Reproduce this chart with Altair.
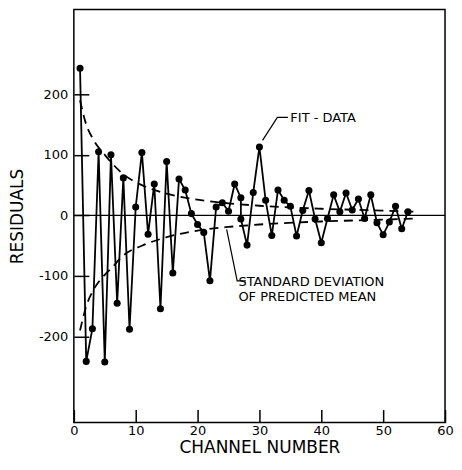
import altair as alt
import pandas as pd

# ---- data ----
channels = [1, 2, 3, 4, 5, 6, 7, 8, 9, 10, 11, 12, 13, 14, 15, 16, 17, 18, 19, 20,
            21, 22, 23, 24, 25, 26, 27, 27, 28, 29, 30, 31, 32, 33, 34, 35, 36, 37,
            38, 39, 40, 41, 42, 43, 44, 45, 46, 47, 48, 49, 50, 51, 52, 53, 54]
residuals = [243, -241, -187, 105, -242, 100, -145, 62, -188, 14, 104, -31, 52, -154,
             89, -95, 60, 42, 3, -15, -28, -108, 14, 21, 7, 52, 29, -6, -49, 38, 113,
             25, -33, 42, 25, 15, -34, 8, 41, -6, -45, -5, 34, 6, 37, 9, 27, -5, 34,
             -12, -32, -11, 15, -22, 6]

std_channels = [1, 2, 3, 4, 5, 6, 8, 11, 15, 20, 25, 30, 40, 50, 55.5]
std_upper = [190, 150, 128, 112, 100, 88, 68, 50, 36, 26, 20, 16, 11, 8, 6]
std_lower = [-190, -150, -126, -110, -98, -88, -66, -50, -36, -25, -19, -15, -10, -7, -5]

x_ticks = [0, 10, 20, 30, 40, 50, 60]
y_ticks = [-200, -100, 0, 100, 200]

zero_x = [0, 60]
zero_y = [0, 0]

labels_text = ["FIT - DATA", "STANDARD DEVIATION", "OF PREDICTED MEAN"]
labels_x = [35.0, 26.6, 26.6]
labels_y = [161, -110, -134]

leader_group = ["fit", "fit", "fit", "std", "std", "std"]
leader_x = [34.6, 32.9, 30.5, 27.8, 26.4, 24.7]
leader_y = [162, 162, 124, -108, -108, -23]

FONT = "DejaVu Sans"

df = pd.DataFrame({"idx": list(range(len(channels))), "channel": channels, "value": residuals})
std_df = pd.DataFrame({
    "channel": std_channels + std_channels,
    "value": std_upper + std_lower,
    "side": ["upper"] * len(std_channels) + ["lower"] * len(std_channels),
})
lab_df = pd.DataFrame({"channel": labels_x, "value": labels_y, "text": labels_text})
lead_df = pd.DataFrame({"idx": list(range(len(leader_x))), "grp": leader_group,
                        "channel": leader_x, "value": leader_y})
zero_df = pd.DataFrame({"channel": zero_x, "value": zero_y})

x_scale = alt.Scale(domain=[0, 60], nice=False, zero=False)
y_scale = alt.Scale(domain=[-342, 340], nice=False, zero=False)

x_axis = alt.Axis(values=x_ticks, tickSize=13, offset=-13, domain=False, grid=False,
                  tickColor="black", tickWidth=1.5, labelPadding=2, labelFont=FONT,
                  labelFontSize=13, labelColor="black", labelFlush=False,
                  title="CHANNEL NUMBER", titleFont=FONT, titleFontSize=17,
                  titleFontWeight="normal", titleColor="black", titlePadding=2)
y_axis = alt.Axis(values=y_ticks, tickSize=15, offset=-15, domain=False, grid=False,
                  tickColor="black", tickWidth=1.5, labelPadding=6, labelFont=FONT,
                  labelFontSize=13, labelColor="black",
                  labelExpr="datum.value < 0 ? '-' + abs(datum.value) : '' + datum.value",
                  title="RESIDUALS", titleFont=FONT, titleFontSize=17,
                  titleFontWeight="normal", titleColor="black", titlePadding=12)

line = alt.Chart(df).mark_line(color="black", strokeWidth=1.8).encode(order="idx:Q")
pts = alt.Chart(df).mark_circle(color="black", size=50, opacity=1)
zero = alt.Chart(zero_df).mark_line(color="black", strokeWidth=1.3)
std = alt.Chart(std_df).mark_line(color="black", strokeWidth=1.8, strokeDash=[9, 6],
                                   interpolate="monotone").encode(detail="side:N")
lead = alt.Chart(lead_df).mark_line(color="black", strokeWidth=1.2).encode(
    detail="grp:N", order="idx:Q")
txt = alt.Chart(lab_df).mark_text(font=FONT, fontSize=13, align="left", baseline="middle",
                                  color="black").encode(text="text:N")

chart = alt.layer(zero, std, line, pts, lead, txt).encode(
    x=alt.X("channel:Q", scale=x_scale, axis=x_axis),
    y=alt.Y("value:Q", scale=y_scale, axis=y_axis),
).properties(
    width=372, height=414,
    background="white",
    padding={"left": 0, "top": 1, "right": 0, "bottom": 0},
).configure_view(stroke="black", strokeWidth=1.5)

chart.save("out.html", embed_options={"renderer": "svg", "actions": False})
